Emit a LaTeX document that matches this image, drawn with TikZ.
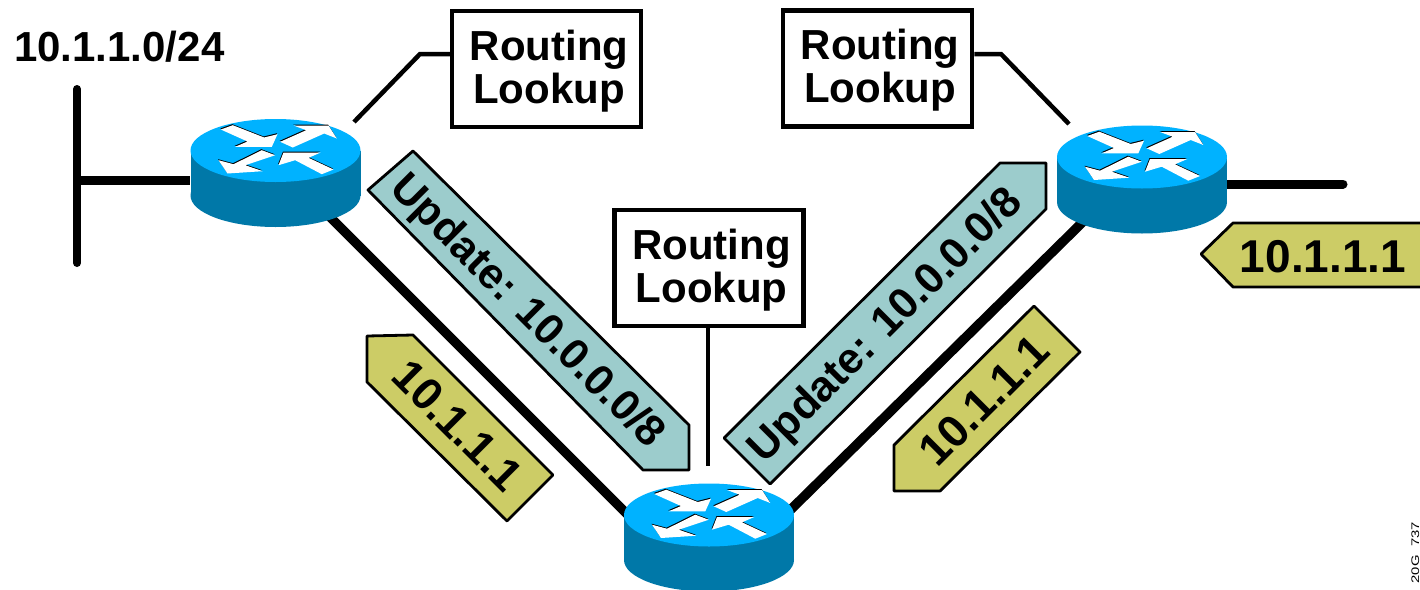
\documentclass[tikz,border=0pt]{standalone}
\usepackage{fontspec}
\setmainfont{Liberation Sans}
\definecolor{routertop}{HTML}{00B2FF}
\definecolor{routerside}{HTML}{0078A8}
\definecolor{updatefill}{HTML}{9CCCCC}
\definecolor{packetfill}{HTML}{CCCC66}
\tikzset{
    lookupbox/.style={draw,line width=4.5pt,fill=white,minimum width=189pt,minimum height=116pt},
    lookuptext/.style={inner sep=0pt,align=center,xshift=2.5pt,yshift=-2pt,font=\fontsize{42}{43}\selectfont\bfseries},
    routerbody/.style={minimum width=170pt,minimum height=108pt,inner sep=0pt},
    netline/.style={line width=9pt},
    taplink/.style={line width=4.5pt},
    tagshape/.style={draw,line width=2.8pt,line join=round},
    taglabel/.style={inner sep=0pt,font=\fontsize{43}{43}\selectfont\bfseries},
    packetlabel/.style={inner sep=0pt,font=\fontsize{45}{45}\selectfont\bfseries}
}
\newcommand{\routerarrows}{
    (-54.7,-21) -- (-42.7,-25.3) -- (-11.3,-13) -- (2,-16.3) -- (-3.7,-3.7) -- (-40.3,-3.7) -- (-28,-9) -- cycle
    (4.7,-8.7) -- (30.7,-20.3) -- (18,-25) -- (53,-25) -- (61.3,-12) -- (48.7,-17) -- (17.3,-3) -- cycle
    (-0.3,4.7) -- (-13.7,-0.3) -- (-42,13.7) -- (-57,9.7) -- (-48,23) -- (-12.7,20.7) -- (-30.3,14.7) -- cycle
    (58,19) -- (46.3,23.7) -- (19.7,9.7) -- (3,14.7) -- (8,2) -- (45.3,2) -- (33,7.3) -- cycle
}
% drawn over the links, around the node of that name
\newcommand{\drawrouter}[1]{
    \begin{scope}[shift={(#1)},yshift=22.5pt]
        \fill[routerside] (0,45) ellipse (85pt and 31.5pt);
        \fill[routerside] (-85,0) rectangle (85,45);
        \fill[routertop] (0,0) ellipse (85pt and 31.5pt);
        \fill[black,shift={(-0.5,-1)}] \routerarrows;
        \fill[white] \routerarrows;
    \end{scope}
}

\begin{document}
\begin{tikzpicture}[x=1pt,y=-1pt]
    \useasboundingbox (0,0) rectangle (1420,589);
    \clip (0,0) rectangle (1420,589);

    \node[anchor=west,inner sep=0pt,font=\fontsize{42}{42}\selectfont\bfseries] (netlabel) at (14,47) {10.1.1.0/24};

    \node[lookupbox] (lookupA) at (546.5,69) {};
    \node[lookuptext] (lookupAtext) at (lookupA) {Routing\\Lookup};
    \node[lookupbox] (lookupB) at (877.5,68.5) {};
    \node[lookuptext] (lookupBtext) at (lookupB) {Routing\\Lookup};
    \node[lookupbox] (lookupC) at (709,268) {};
    \node[lookuptext] (lookupCtext) at (lookupC) {Routing\\Lookup};

    \node[routerbody] (routerA) at (275.5,173) {};
    \node[routerbody] (routerB) at (1142,179.5) {};
    \node[routerbody] (routerC) at (709,537.5) {};

    % free ends of the links
    \coordinate (netTop) at (77,89);
    \coordinate (netBottom) at (77,263);
    \coordinate (netTee) at (77,180);
    \coordinate (stubEnd) at (1343,184);
    \coordinate (tapA) at (354,122);
    \coordinate (bendA) at (420,54);
    \coordinate (tapB) at (1069,124);
    \coordinate (bendB) at (1001,54);
    \coordinate (tapC) at (708,466);
    \coordinate (linkAin) at (320,207);
    \coordinate (linkAout) at (650,537);
    \coordinate (linkBin) at (1100,205);
    \coordinate (linkBout) at (770,530);

    \draw[line width=8pt,line cap=round] (netTop) -- (netBottom);
    \draw[netline] (netTee) -- (routerA.west |- netTee);
    \draw[netline,line cap=round] (routerB.east |- stubEnd) -- (stubEnd);
    \draw[line width=9.5pt] (linkAin) -- (linkAout);
    \draw[line width=9.5pt] (linkBin) -- (linkBout);
    \draw[taplink] (tapA) -- (bendA) -- (lookupA.west |- bendA);
    \draw[taplink] (tapB) -- (bendB) -- (lookupB.east |- bendB);
    \draw[taplink] (lookupC.south -| tapC) -- (tapC);

    \drawrouter{routerA}
    \drawrouter{routerB}
    \drawrouter{routerC}

    \draw[tagshape,fill=updatefill] (413,151) -- (368,190) -- (643,470) -- (689,470) -- (689,425) -- cycle;
    \node[taglabel,rotate=-45] (updateA) at (526.5,312) {Update: 10.0.0.0/8};

    \draw[tagshape,fill=updatefill] (1000,163) -- (1046,163) -- (1046,209) -- (770,484) -- (724,438) -- cycle;
    \node[taglabel,rotate=45] (updateB) at (886.5,326.5) {Update: 10.0.0.0/8};

    \draw[tagshape,fill=packetfill] (367,336) -- (413,335) -- (553,475) -- (507,521) -- (367,382) -- cycle;
    \node[packetlabel,rotate=-45] (packetA) at (458,425.5) {10.1.1.1};

    \draw[tagshape,fill=packetfill] (1034,306) -- (1080,352) -- (940,491) -- (894,491) -- (894,445) -- cycle;
    \node[packetlabel,rotate=45] (packetB) at (984,400.5) {10.1.1.1};

    \draw[tagshape,fill=packetfill] (1201,254) -- (1233,223) -- (1430,223) -- (1430,287) -- (1233,287) -- cycle;
    \node[packetlabel,font=\fontsize{46}{46}\selectfont\bfseries] (packetC) at (1323,257) {10.1.1.1};

    \node[anchor=base east,rotate=90,inner sep=0pt,font=\fontsize{11}{11}\selectfont] (figtag) at (1419,522) {\scalebox{1.35}[1]{20G\_737}};
\end{tikzpicture}
\end{document}
